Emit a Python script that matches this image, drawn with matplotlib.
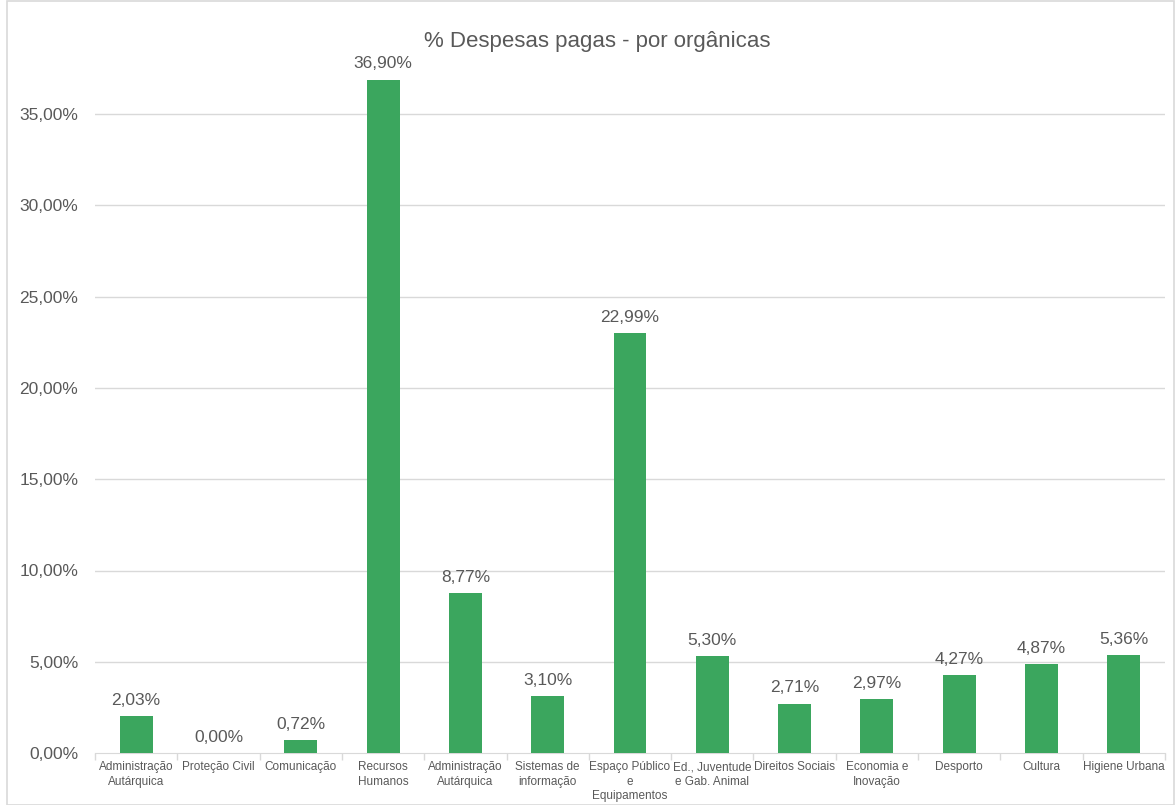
import matplotlib
matplotlib.use("Agg")
import matplotlib.pyplot as plt
from matplotlib.patches import Rectangle

categories = ["Administração\nAutárquica", "Proteção Civil", "Comunicação", "Recursos\nHumanos",
              "Administração\nAutárquica", "Sistemas de\ninformação", "Espaço Público\ne\nEquipamentos",
              "Ed., Juventude\ne Gab. Animal", "Direitos Sociais", "Economia e\nInovação",
              "Desporto", "Cultura", "Higiene Urbana"]
values = [2.03, 0.00, 0.72, 36.90, 8.77, 3.10, 22.99, 5.30, 2.71, 2.97, 4.27, 4.87, 5.36]
yticks = [0, 5, 10, 15, 20, 25, 30, 35]
title = "% Despesas pagas - por orgânicas"

def pct(v):
    return f"{v:.2f}%".replace(".", ",")

txt = "#595959"
bar_color = "#3BA65E"
plt.rcParams['font.family'] = ['Liberation Sans', 'DejaVu Sans']

fig = plt.figure(figsize=(11.76, 8.05), dpi=100)
ax = fig.add_axes([95/1176, 52/805, 1070/1176, 730/805])

x = list(range(len(categories)))
ax.bar(x, values, width=0.4, color=bar_color, zorder=3)
for xi, v in zip(x, values):
    ax.text(xi, v + 0.45, pct(v), ha="center", va="bottom", fontsize=12.5, color=txt)

ax.set_xlim(-0.5, len(categories) - 0.5)
ax.set_ylim(0, 40)
ax.set_yticks(yticks)
ax.set_yticklabels([pct(t) for t in yticks], fontsize=12.5, color=txt)
for t in yticks[1:]:
    ax.axhline(t, color="#D9D9D9", lw=1, zorder=1)
ax.tick_params(axis="y", length=0, pad=12)

ax.set_xticks(x)
ax.set_xticklabels(categories, fontsize=8.5, color=txt, linespacing=1.25,
                   family=['Liberation Sans Narrow', 'Liberation Sans', 'DejaVu Sans'])
ax.tick_params(axis="x", length=0, pad=6)
ax.set_xticks([i + 0.5 for i in range(-1, len(categories))], minor=True)
ax.tick_params(axis="x", which="minor", length=5, color="#D9D9D9", width=1)

for s in ["top", "right", "left"]:
    ax.spines[s].set_visible(False)
ax.spines["bottom"].set_color("#D9D9D9")

fig.text(597/1176, 1 - 42/805, title, ha="center", va="center", fontsize=16, color=txt)

fig.patches.append(Rectangle((7/1176, 0), 1 - 9/1176, 1 - 1/805, transform=fig.transFigure,
                             fill=False, edgecolor="#D9D9D9", lw=1.2))

fig.savefig("out.png", dpi=100)
